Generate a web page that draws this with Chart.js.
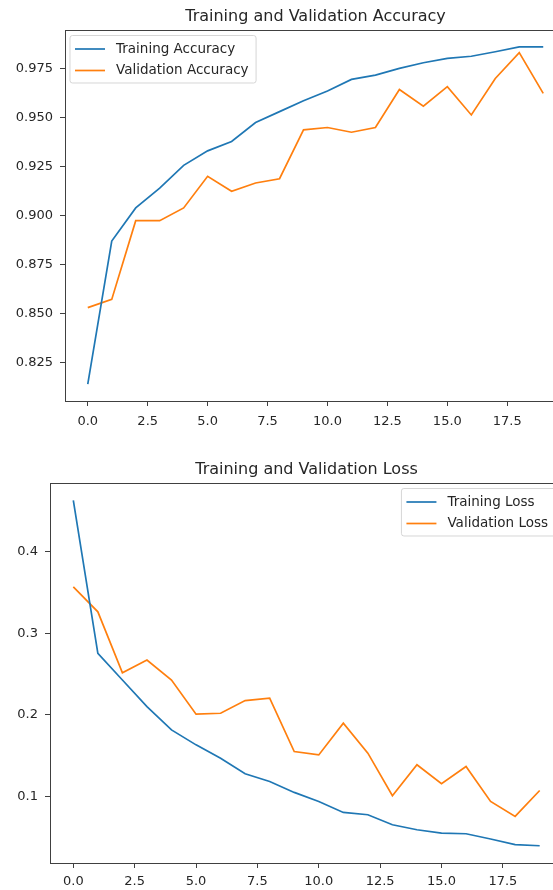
<!DOCTYPE html>
<html>
<head>
<meta charset="utf-8">
<script src="https://cdn.jsdelivr.net/npm/chart.js@4.4.3/dist/chart.umd.min.js"></script>
<style>
    html, body { margin: 0; padding: 0; background: #fff; overflow: hidden; width: 553px; height: 890px; }
    canvas { position: absolute; left: 0; }
    #accChart { top: 0; }
    #lossChart { top: 445px; }
</style>
</head>
<body>
<canvas id="accChart" width="600" height="445"></canvas>
<canvas id="lossChart" width="600" height="445"></canvas>
<script>
const epochs = [0, 1, 2, 3, 4, 5, 6, 7, 8, 9, 10, 11, 12, 13, 14, 15, 16, 17, 18, 19];

const trainAcc = [0.8141, 0.8870, 0.9039, 0.9140, 0.9256, 0.9330, 0.9378, 0.9474, 0.9530, 0.9585,
    0.9635, 0.9694, 0.9716, 0.9750, 0.9779, 0.9801, 0.9812, 0.9835, 0.9860, 0.9860];
const valAcc = [0.8531, 0.8573, 0.8974, 0.8974, 0.9039, 0.9200, 0.9124, 0.9166, 0.9188, 0.9437,
    0.9449, 0.9425, 0.9449, 0.9643, 0.9558, 0.9657, 0.9513, 0.9699, 0.9831, 0.9623];

const trainLoss = [0.4633, 0.2756, 0.2429, 0.2102, 0.1817, 0.1633, 0.1470, 0.1278, 0.1184, 0.1050,
    0.0939, 0.0804, 0.0776, 0.0653, 0.0592, 0.0551, 0.0543, 0.0478, 0.0409, 0.0396];
const valLoss = [0.3571, 0.3265, 0.2518, 0.2674, 0.2429, 0.2009, 0.2021, 0.2176, 0.2205, 0.1551,
    0.1510, 0.1899, 0.1531, 0.1009, 0.1389, 0.1156, 0.1368, 0.0939, 0.0755, 0.1073];

const xTicks = [0, 2.5, 5, 7.5, 10, 12.5, 15, 17.5];
const accTicks = [0.825, 0.85, 0.875, 0.9, 0.925, 0.95, 0.975];
const lossTicks = [0.1, 0.2, 0.3, 0.4];

const BLUE = '#1f77b4';
const ORANGE = '#ff7f0e';
const FONT = 'DejaVu Sans';
const TEXT = '#262626';
const AXIS = '#404040';

const titlePlugin = {
    id: 'axTitle',
    afterDraw(chart, args, opts) {
        const { ctx, chartArea } = chart;
        ctx.save();
        ctx.font = `16px "${FONT}"`;
        ctx.fillStyle = TEXT;
        ctx.textAlign = 'center';
        ctx.textBaseline = 'middle';
        ctx.fillText(opts.text, (chartArea.left + chartArea.right) / 2, chartArea.top - 13);
        ctx.restore();
    }
};

const framePlugin = {
    id: 'axFrame',
    afterDraw(chart) {
        const { ctx, chartArea } = chart;
        ctx.save();
        ctx.strokeStyle = AXIS;
        ctx.lineWidth = 1;
        ctx.strokeRect(chartArea.left + 0.5, chartArea.top + 0.5,
            chartArea.right - chartArea.left, chartArea.bottom - chartArea.top);
        ctx.restore();
    }
};

// matplotlib style legend box inside the axes
const boxLegendPlugin = {
    id: 'boxLegend',
    afterDraw(chart, args, opts) {
        const { ctx, chartArea } = chart;
        const sets = chart.data.datasets;
        ctx.save();
        ctx.font = `13.5px "${FONT}"`;
        const textW = Math.max(...sets.map(d => ctx.measureText(d.label).width));
        const pad = 5.5, handle = 30, gap = 11, rowGap = 21.5;
        const w = pad + handle + gap + textW + 7;
        const h = 14 + rowGap * (sets.length - 1) + 12;
        const x = opts.corner === 'tr' ? chartArea.right - 8 - w : chartArea.left + 4.5;
        const y = chartArea.top + 5;

        ctx.fillStyle = 'rgba(255,255,255,0.8)';
        ctx.strokeStyle = 'rgba(204,204,204,0.8)';
        ctx.lineWidth = 1;
        ctx.beginPath();
        ctx.roundRect(x + 0.5, y + 0.5, w, h, 2.5);
        ctx.fill();
        ctx.stroke();

        sets.forEach((d, i) => {
            const cy = y + 14 + i * rowGap;
            ctx.strokeStyle = d.borderColor;
            ctx.lineWidth = 1.7;
            ctx.beginPath();
            ctx.moveTo(x + pad, cy);
            ctx.lineTo(x + pad + handle, cy);
            ctx.stroke();
            ctx.fillStyle = TEXT;
            ctx.textBaseline = 'middle';
            ctx.fillText(d.label, x + pad + handle + gap, cy);
        });
        ctx.restore();
    }
};

function toPoints(values) {
    return epochs.map((e, i) => ({ x: e, y: values[i] }));
}

function makeSeries(label, values, color) {
    return {
        label: label,
        data: toPoints(values),
        borderColor: color,
        backgroundColor: color,
        borderWidth: 1.7,
        pointRadius: 0,
        tension: 0,
        fill: false
    };
}

function buildChart(canvas, cfg) {
    const all = cfg.series.flatMap(s => s.values);
    const lo = Math.min(...all);
    const hi = Math.max(...all);
    const margin = (hi - lo) * 0.05;

    const tickFont = { family: FONT, size: 13 };
    const axisGrid = { drawOnChartArea: false, color: AXIS, tickLength: 5, tickWidth: 1 };

    return new Chart(canvas, {
        type: 'line',
        data: {
            datasets: cfg.series.map(s => makeSeries(s.label, s.values, s.color))
        },
        options: {
            responsive: false,
            animation: false,
            layout: { padding: { top: cfg.top, right: canvas.width - cfg.right, left: 0, bottom: 0 } },
            plugins: {
                legend: { display: false },
                tooltip: { enabled: false },
                axTitle: { text: cfg.title },
                boxLegend: { corner: cfg.legendCorner }
            },
            scales: {
                x: {
                    type: 'linear',
                    min: -0.95,
                    max: 19.95,
                    afterBuildTicks: scale => { scale.ticks = xTicks.map(v => ({ value: v })); },
                    afterFit: scale => { scale.height = canvas.height - cfg.bottom; },
                    grid: axisGrid,
                    border: { display: false },
                    ticks: {
                        font: tickFont,
                        color: TEXT,
                        padding: cfg.xPad,
                        maxRotation: 0,
                        autoSkip: false,
                        callback: v => Number(v).toFixed(1)
                    }
                },
                y: {
                    type: 'linear',
                    min: lo - margin,
                    max: hi + margin,
                    afterBuildTicks: scale => { scale.ticks = cfg.yTicks.map(v => ({ value: v })); },
                    afterFit: scale => { scale.width = cfg.left; },
                    grid: axisGrid,
                    border: { display: false },
                    ticks: {
                        font: tickFont,
                        color: TEXT,
                        padding: 7,
                        autoSkip: false,
                        callback: v => Number(v).toFixed(cfg.digits)
                    }
                }
            }
        },
        plugins: [titlePlugin, framePlugin, boxLegendPlugin]
    });
}

buildChart(document.getElementById('accChart'), {
    title: 'Training and Validation Accuracy',
    series: [
        { label: 'Training Accuracy', values: trainAcc, color: BLUE },
        { label: 'Validation Accuracy', values: valAcc, color: ORANGE }
    ],
    yTicks: accTicks,
    digits: 3,
    legendCorner: 'tl',
    xPad: 8,
    left: 65, right: 566, top: 30, bottom: 401
});

buildChart(document.getElementById('lossChart'), {
    title: 'Training and Validation Loss',
    series: [
        { label: 'Training Loss', values: trainLoss, color: BLUE },
        { label: 'Validation Loss', values: valLoss, color: ORANGE }
    ],
    yTicks: lossTicks,
    digits: 1,
    legendCorner: 'tr',
    xPad: 6,
    left: 50, right: 563, top: 38, bottom: 418
});
</script>
</body>
</html>
